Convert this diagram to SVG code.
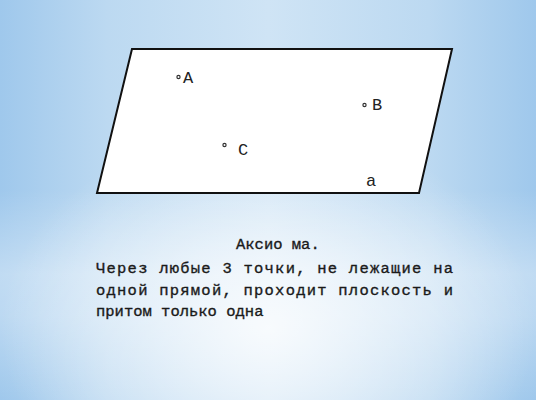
<svg xmlns="http://www.w3.org/2000/svg" width="536" height="400" viewBox="0 0 536 400">
<defs>
<linearGradient id="bgH" x1="0" y1="0" x2="1" y2="0">
<stop offset="0" stop-color="#9fc8ec"/>
<stop offset="0.2" stop-color="#bcd9f1"/>
<stop offset="0.5" stop-color="#cfe4f5"/>
<stop offset="0.8" stop-color="#bcd9f1"/>
<stop offset="1" stop-color="#9fc8ec"/>
</linearGradient>
<radialGradient id="glow" cx="0.5" cy="0.82" r="0.5" fx="0.5" fy="0.82">
<stop offset="0" stop-color="#ffffff" stop-opacity="0.8"/>
<stop offset="0.55" stop-color="#ffffff" stop-opacity="0.35"/>
<stop offset="1" stop-color="#ffffff" stop-opacity="0"/>
</radialGradient>
<linearGradient id="band" x1="0" y1="0" x2="0" y2="1">
<stop offset="0" stop-color="#ffffff" stop-opacity="0"/>
<stop offset="0.4" stop-color="#ffffff" stop-opacity="0.35"/>
<stop offset="0.6" stop-color="#ffffff" stop-opacity="0.3"/>
<stop offset="1" stop-color="#ffffff" stop-opacity="0"/>
</linearGradient>
</defs>
<style>
.lbl{font-family:"Liberation Mono","DejaVu Sans Mono",monospace;font-size:17px;fill:#222}
.txt{font-family:"Liberation Mono","DejaVu Sans Mono",monospace;font-size:15.5px;fill:#1a1a1a;stroke:#1a1a1a;stroke-width:0.35}
.pt{fill:#fff;stroke:#333;stroke-width:1.2}
</style>
<rect width="536" height="400" fill="url(#bgH)"/>
<rect y="190" width="536" height="210" fill="url(#band)"/>
<rect width="536" height="400" fill="url(#glow)"/>
<g id="plane">
<polygon points="132,49 452,49 419,193 97,193" fill="#ffffff" stroke="#111" stroke-width="2"/>
</g>
<g id="pointA"><circle class="pt" cx="178.5" cy="77" r="1.6"/><text class="lbl" x="183" y="83">A</text></g>
<g id="pointB"><circle class="pt" cx="364.5" cy="105" r="1.6"/><text class="lbl" x="372" y="110">B</text></g>
<g id="pointC"><circle class="pt" cx="224.5" cy="145" r="1.6"/><text class="lbl" x="238" y="155">C</text></g>
<g id="planeLabel"><text class="lbl" x="366" y="186">a</text></g>
<g id="caption">
<text class="txt" x="236" y="249">Аксио ма.</text>
<text class="txt" x="96" y="273" textLength="357" lengthAdjust="spacing">Через любые 3 точки, не лежащие  на</text>
<text class="txt" x="96" y="295" textLength="357" lengthAdjust="spacing">одной прямой, проходит плоскость и</text>
<text class="txt" x="96" y="316">притом только одна</text>
</g>
</svg>
